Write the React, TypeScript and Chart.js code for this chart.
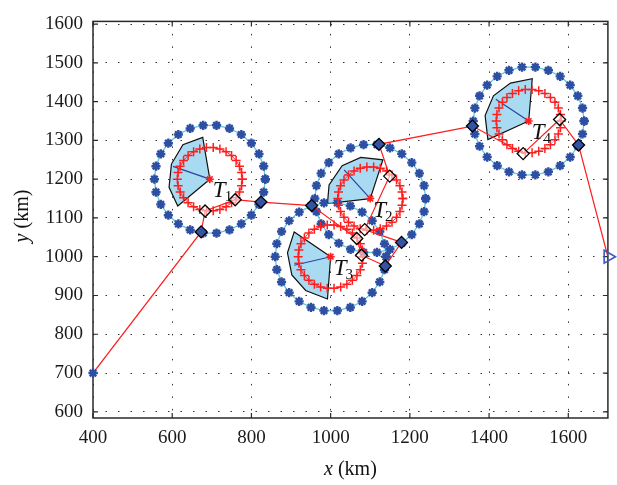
import React, { useEffect, useRef } from 'react';
import { Chart, registerables } from 'chart.js';

Chart.register(...registerables);

// ---- axes ----
const xTicks = [400, 600, 800, 1000, 1200, 1400, 1600];
const yTicks = [600, 700, 800, 900, 1000, 1100, 1200, 1300, 1400, 1500, 1600];
const xMin = 400;
const xMax = 1700;
const yMin = 584;
const yMax = 1607;

// ---- targets ----
const targetNames = ['1', '2', '3', '4'];
const targetX = [695, 1100, 1000, 1500];
const targetY = [1200, 1150, 1000, 1350];
const outerRadius = 140;
const innerRadius = 82;
const outerMarkerCount = 26;
const innerMarkerCount = 30;
const innerLineColors = ['#ff3030', '#ff3030', '#ff3030', '#80d0dc'];

// ---- sector (fan) arc vertices per target, km ----
const sectorX = [
  [677, 627, 598, 592, 614],
  [1132, 1076, 1029, 996, 992],
  [908, 891, 902, 937, 992],
  [1509, 1454, 1411, 1390, 1397],
];
const sectorY = [
  [1308, 1289, 1239, 1179, 1131],
  [1250, 1256, 1235, 1185, 1137],
  [1064, 1010, 953, 913, 891],
  [1459, 1448, 1415, 1364, 1302],
];

// ---- heading line end points ----
const headingX = [602, 1034, 908, 1417];
const headingY = [1233, 1224, 978, 1406];

// ---- route ----
const pathX = [400, 673, 683, 759, 824, 952, 1066, 1078, 1138, 1179, 1086, 1149, 1122, 1358, 1486, 1578, 1626, 1700];
const pathY = [700, 1064, 1118, 1147, 1141, 1132, 1047, 1004, 976, 1037, 1070, 1208, 1290, 1337, 1266, 1354, 1288, 1000];
const outerDiamondIdx = [1, 4, 5, 8, 9, 12, 13, 16];
const innerDiamondIdx = [2, 3, 6, 7, 10, 11, 14, 15];

const SERIF = '"Liberation Serif", "DejaVu Serif", serif';
const BLUE = '#2d4fa3';
const CYAN = '#62c6d8';
const RED = '#ff1e1e';

function circlePoints(cx: number, cy: number, r: number, n: number) {
  const pts: { x: number; y: number }[] = [];
  for (let k = 0; k <= n; k++) {
    const a = (2 * Math.PI * k) / n;
    pts.push({ x: cx + r * Math.cos(a), y: cy + r * Math.sin(a) });
  }
  return pts;
}

const overlayPlugin = {
  id: 'overlay',
  beforeDatasetsDraw(chart: any) {
    const { ctx, chartArea: a, scales } = chart;
    ctx.save();
    ctx.strokeStyle = '#2a2a2a';
    ctx.lineWidth = 1.5;
    ctx.strokeRect(a.left, a.top, a.right - a.left, a.bottom - a.top);
    ctx.lineWidth = 1.2;
    const L = 5;
    ctx.beginPath();
    xTicks.forEach((v) => {
      const p = scales.x.getPixelForValue(v);
      ctx.moveTo(p, a.bottom);
      ctx.lineTo(p, a.bottom - L);
      ctx.moveTo(p, a.top);
      ctx.lineTo(p, a.top + L);
    });
    yTicks.forEach((v) => {
      const p = scales.y.getPixelForValue(v);
      ctx.moveTo(a.left, p);
      ctx.lineTo(a.left + L, p);
      ctx.moveTo(a.right, p);
      ctx.lineTo(a.right - L, p);
    });
    ctx.stroke();
    ctx.restore();
  },
  afterDatasetsDraw(chart: any) {
    const { ctx, scales } = chart;
    ctx.save();
    ctx.fillStyle = '#111';
    ctx.textBaseline = 'alphabetic';
    ctx.textAlign = 'left';
    targetNames.forEach((n, i) => {
      const px = scales.x.getPixelForValue(targetX[i]);
      const py = scales.y.getPixelForValue(targetY[i]);
      ctx.font = `italic 23px ${SERIF}`;
      ctx.fillText('T', px + 3, py + 18);
      const w = ctx.measureText('T').width;
      ctx.font = `15px ${SERIF}`;
      ctx.fillText(n, px + 2 + w, py + 22);
    });
    ctx.restore();
  },
  afterDraw(chart: any) {
    const { ctx, chartArea: a } = chart;
    ctx.save();
    ctx.fillStyle = '#111';
    ctx.textBaseline = 'alphabetic';
    // x title
    const cx = (a.left + a.right) / 2;
    ctx.font = `italic 20px ${SERIF}`;
    const w1 = ctx.measureText('x').width;
    ctx.font = `20px ${SERIF}`;
    const w2 = ctx.measureText(' (km)').width;
    let sx = cx - (w1 + w2) / 2;
    ctx.font = `italic 20px ${SERIF}`;
    ctx.fillText('x', sx, 475);
    ctx.font = `20px ${SERIF}`;
    ctx.fillText(' (km)', sx + w1, 475);
    // y title
    ctx.translate(28, 216);
    ctx.rotate(-Math.PI / 2);
    ctx.font = `italic 20px ${SERIF}`;
    const v1 = ctx.measureText('y').width;
    ctx.font = `20px ${SERIF}`;
    const v2 = ctx.measureText(' (km)').width;
    sx = -(v1 + v2) / 2;
    ctx.font = `italic 20px ${SERIF}`;
    ctx.fillText('y', sx, 0);
    ctx.font = `20px ${SERIF}`;
    ctx.fillText(' (km)', sx + v1, 0);
    ctx.restore();
  },
};

export default function App() {
  const ref = useRef<HTMLCanvasElement | null>(null);

  useEffect(() => {
    if (!ref.current) return;
    const layers: any[][] = [];

    // sectors
    layers.push(
      targetNames.map((_, i) => ({
        data: [
          { x: targetX[i], y: targetY[i] },
          ...sectorX[i].map((x, k) => ({ x, y: sectorY[i][k] })),
          { x: targetX[i], y: targetY[i] },
        ],
        borderColor: '#111',
        borderWidth: 1.2,
        backgroundColor: '#a8dbf1',
        fill: 'shape',
        pointRadius: 0,
      }))
    );
    // heading lines
    layers.push(
      targetNames.map((_, i) => ({
        data: [
          { x: targetX[i], y: targetY[i] },
          { x: headingX[i], y: headingY[i] },
        ],
        borderColor: '#2a44a0',
        borderWidth: 1.2,
        pointRadius: 0,
        fill: false,
      }))
    );
    // outer circles
    layers.push(
      targetNames.map((_, i) => ({
        data: circlePoints(targetX[i], targetY[i], outerRadius, outerMarkerCount),
        borderColor: CYAN,
        borderWidth: 1.3,
        pointStyle: 'star',
        pointRadius: 4.6,
        pointBorderColor: BLUE,
        pointBackgroundColor: BLUE,
        pointBorderWidth: 2.4,
        fill: false,
      }))
    );
    // inner circles
    layers.push(
      targetNames.map((_, i) => ({
        data: circlePoints(targetX[i], targetY[i], innerRadius, innerMarkerCount),
        borderColor: innerLineColors[i],
        borderWidth: 1,
        pointStyle: 'cross',
        pointRadius: 4.5,
        pointBorderColor: RED,
        pointBorderWidth: 1.5,
        fill: false,
      }))
    );
    // route
    layers.push([
      {
        data: pathX.map((x, k) => ({ x, y: pathY[k] })),
        borderColor: RED,
        borderWidth: 1.2,
        pointRadius: 0,
        fill: false,
      },
    ]);
    // diamonds
    layers.push([
      {
        data: outerDiamondIdx.map((k) => ({ x: pathX[k], y: pathY[k] })),
        showLine: false,
        pointStyle: 'rectRot',
        pointRadius: 6,
        pointBackgroundColor: '#3453a3',
        pointBorderColor: '#000',
        pointBorderWidth: 1.3,
      },
      {
        data: innerDiamondIdx.map((k) => ({ x: pathX[k], y: pathY[k] })),
        showLine: false,
        pointStyle: 'rectRot',
        pointRadius: 6,
        pointBackgroundColor: 'rgba(255,255,255,0.55)',
        pointBorderColor: '#000',
        pointBorderWidth: 1.3,
      },
    ]);
    // target centers
    layers.push([
      {
        data: targetNames.map((_, i) => ({ x: targetX[i], y: targetY[i] })),
        showLine: false,
        pointStyle: 'star',
        pointRadius: 4,
        pointBorderColor: RED,
        pointBackgroundColor: RED,
        pointBorderWidth: 1.6,
      },
    ]);
    // start / end markers
    layers.push([
      {
        data: [{ x: pathX[0], y: pathY[0] }],
        showLine: false,
        pointStyle: 'star',
        pointRadius: 4.6,
        pointBorderColor: BLUE,
        pointBorderWidth: 2.4,
        clip: false,
      },
      {
        data: [{ x: pathX[pathX.length - 1], y: pathY[pathY.length - 1] }],
        showLine: false,
        pointStyle: 'triangle',
        pointRotation: 90,
        pointRadius: 7.5,
        pointBorderColor: '#3a5cc0',
        pointBackgroundColor: 'rgba(255,255,255,0)',
        pointBorderWidth: 1.6,
        clip: false,
      },
    ]);

    const datasets: any[] = [];
    layers.forEach((layer, li) => {
      layer.forEach((ds) => {
        datasets.push({ ...ds, order: 100 - li, tension: 0 });
      });
    });

    const tickFont = { family: SERIF, size: 19 };
    const chart = new Chart(ref.current, {
      type: 'line',
      data: { datasets },
      options: {
        responsive: false,
        animation: false,
        events: [],
        layout: { padding: { left: 0, right: 7, top: 10, bottom: 0 } },
        plugins: {
          legend: { display: false },
          tooltip: { enabled: false },
          title: { display: false },
        },
        scales: {
          x: {
            type: 'linear',
            min: xMin,
            max: xMax,
            afterBuildTicks: (s: any) => {
              s.ticks = xTicks.map((value) => ({ value }));
            },
            afterFit: (s: any) => {
              s.height = 67;
            },
            grid: {
              color: '#333',
              lineWidth: 1,
              drawTicks: false,
            },
            border: { display: false, dash: [1.5, 11] },
            ticks: {
              font: tickFont,
              color: '#1a1a1a',
              padding: 9,
              maxRotation: 0,
              autoSkip: false,
              callback: (v: any) => String(v),
            },
          },
          y: {
            type: 'linear',
            min: yMin,
            max: yMax,
            afterBuildTicks: (s: any) => {
              s.ticks = yTicks.map((value) => ({ value }));
            },
            afterFit: (s: any) => {
              s.width = 93;
            },
            grid: {
              color: '#333',
              lineWidth: 1,
              drawTicks: false,
            },
            border: { display: false, dash: [1.5, 11] },
            ticks: {
              font: tickFont,
              color: '#1a1a1a',
              padding: 10,
              autoSkip: false,
              callback: (v: any) => String(v),
            },
          },
        },
      },
      plugins: [overlayPlugin],
    } as any);

    return () => chart.destroy();
  }, []);

  return (
    <div style={{ position: 'fixed', left: 0, top: 0, width: 617, height: 485, background: '#fff' }}>
      <canvas ref={ref} width={617} height={485} style={{ display: 'block', width: 617, height: 485 }} />
    </div>
  );
}
